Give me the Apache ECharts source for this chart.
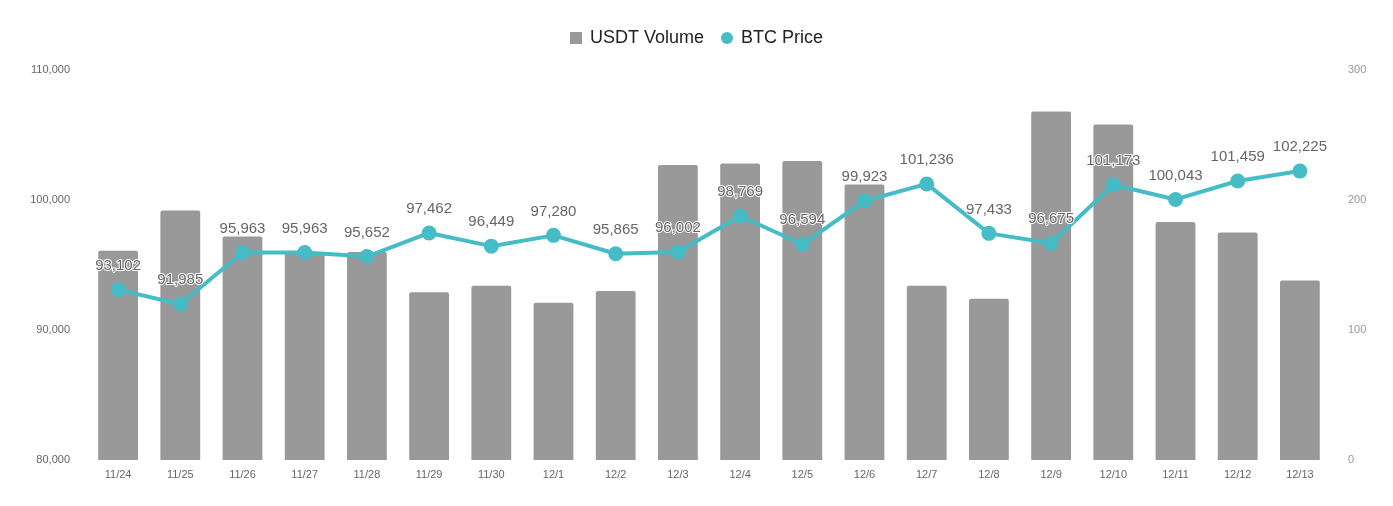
<!DOCTYPE html>
<html>
<head>
<meta charset="utf-8">
<script src="https://cdn.jsdelivr.net/npm/echarts@6/dist/echarts.min.js"></script>
<style>
html,body{margin:0;padding:0;background:#fff;}
#c{width:1393px;height:506px;}
</style>
</head>
<body>
<div id="c"></div>
<script>
const categories = ['11/24','11/25','11/26','11/27','11/28','11/29','11/30','12/1','12/2','12/3','12/4','12/5','12/6','12/7','12/8','12/9','12/10','12/11','12/12','12/13'];
const usdtVolume = [161, 192, 172, 160, 160, 129, 134, 121, 130, 227, 228, 230, 212, 134, 124, 268, 258, 183, 175, 138];
const btcPrice = [93102, 91985, 95963, 95963, 95652, 97462, 96449, 97280, 95865, 96002, 98769, 96594, 99923, 101236, 97433, 96675, 101173, 100043, 101459, 102225];
const leftTicks = [80000, 110000, 10000];
const rightTicks = [0, 300, 100];

const fmt = v => Number(v).toLocaleString('en-US');
const font = '"Liberation Sans", Arial, sans-serif';

const chart = echarts.init(document.getElementById('c'), null, {renderer: 'canvas'});
chart.setOption({
  backgroundColor: '#fff',
  animation: false,
  textStyle: {fontFamily: font},
  legend: {
    top: 24,
    left: 'center',
    itemWidth: 12,
    itemHeight: 12,
    itemGap: 17,
    textStyle: {fontSize: 18, color: '#222', fontFamily: font, padding: [0, 0, 0, 3]},
    data: [
      {name: 'USDT Volume', icon: 'rect'},
      {name: 'BTC Price', icon: 'circle'}
    ]
  },
  grid: {left: 87, right: 62, top: 70, bottom: 46},
  xAxis: {
    type: 'category',
    data: categories,
    axisLine: {show: false},
    axisTick: {show: false},
    axisLabel: {color: '#666', fontSize: 11, margin: 9, fontFamily: font}
  },
  yAxis: [
    {
      type: 'value',
      min: leftTicks[0], max: leftTicks[1], interval: leftTicks[2],
      axisLine: {show: false}, axisTick: {show: false},
      splitLine: {show: false},
      axisLabel: {color: '#666', fontSize: 11, margin: 17, formatter: v => fmt(v), fontFamily: font}
    },
    {
      type: 'value',
      min: rightTicks[0], max: rightTicks[1], interval: rightTicks[2],
      axisLine: {show: false}, axisTick: {show: false},
      splitLine: {show: false},
      axisLabel: {color: '#999', fontSize: 11, margin: 17, fontFamily: font}
    }
  ],
  series: [
    {
      name: 'USDT Volume',
      type: 'bar',
      yAxisIndex: 1,
      data: usdtVolume,
      barCategoryGap: '36%',
      itemStyle: {color: '#999999', borderRadius: [2, 2, 0, 0]}
    },
    {
      name: 'BTC Price',
      type: 'line',
      yAxisIndex: 0,
      data: btcPrice,
      symbol: 'circle',
      symbolSize: 15,
      lineStyle: {color: '#45bcc6', width: 4},
      itemStyle: {color: '#45bcc6'},
      label: {
        show: true,
        position: 'top',
        distance: 9,
        formatter: p => fmt(p.value),
        color: '#666',
        fontSize: 15,
        fontFamily: font,
        textBorderColor: '#fff',
        textBorderWidth: 2
      }
    }
  ]
});
</script>
</body>
</html>
